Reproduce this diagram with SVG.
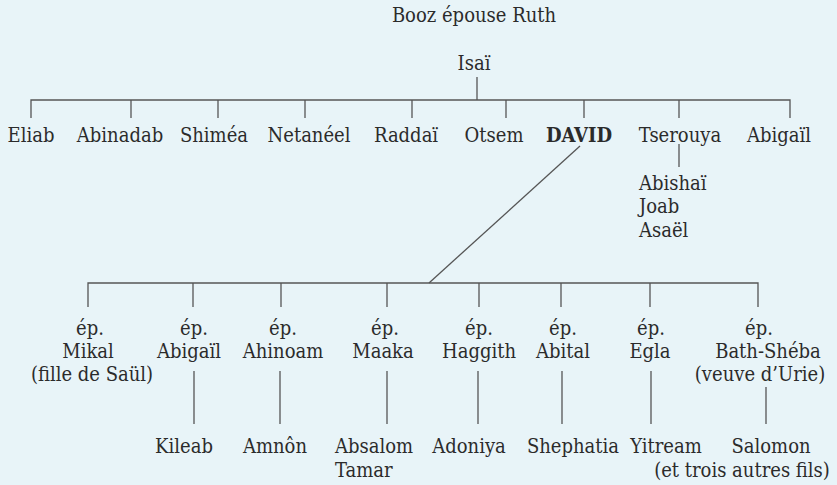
<svg xmlns="http://www.w3.org/2000/svg" width="837" height="485" viewBox="0 0 837 485">
<style>
text{font-family:"DejaVu Serif Condensed","DejaVu Serif","Liberation Serif",serif;font-stretch:condensed;font-size:20px;fill:#2b2b2b;text-anchor:middle}
.l{text-anchor:start}
.b{font-weight:bold}
#connectors line,#connectors polyline{stroke:#555;stroke-width:1.3;fill:none}
</style>
<rect width="837" height="485" fill="#e8f4f8"/>
<g id="connectors">
<line x1="477" y1="77" x2="477" y2="100"/>
<polyline points="31,118 31,100 790,100 790,118"/>
<line x1="131" y1="100" x2="131" y2="118"/>
<line x1="218" y1="100" x2="218" y2="118"/>
<line x1="305" y1="100" x2="305" y2="118"/>
<line x1="412" y1="100" x2="412" y2="118"/>
<line x1="506" y1="100" x2="506" y2="118"/>
<line x1="584" y1="100" x2="584" y2="118"/>
<line x1="679" y1="100" x2="679" y2="118"/>
<line x1="679" y1="144" x2="679" y2="167"/>
<line x1="580" y1="146" x2="429" y2="283"/>
<polyline points="88,307 88,283 758,283 758,307"/>
<line x1="193" y1="283" x2="193" y2="307"/>
<line x1="281" y1="283" x2="281" y2="307"/>
<line x1="387" y1="283" x2="387" y2="307"/>
<line x1="479" y1="283" x2="479" y2="307"/>
<line x1="561" y1="283" x2="561" y2="307"/>
<line x1="650" y1="283" x2="650" y2="307"/>
<line x1="194" y1="371" x2="194" y2="424"/>
<line x1="280" y1="371" x2="280" y2="424"/>
<line x1="387" y1="371" x2="387" y2="424"/>
<line x1="478" y1="371" x2="478" y2="424"/>
<line x1="562" y1="371" x2="562" y2="424"/>
<line x1="651" y1="371" x2="651" y2="424"/>
<line x1="766" y1="387" x2="766" y2="424"/>
</g>
<g id="title"><text x="474" y="22">Booz épouse Ruth</text></g>
<g id="isai"><text x="474" y="70">Isaï</text></g>
<g id="eliab"><text x="31" y="142">Eliab</text></g>
<g id="abinadab"><text x="120" y="142">Abinadab</text></g>
<g id="shimea"><text x="214" y="142">Shiméa</text></g>
<g id="netaneel"><text x="309" y="142">Netanéel</text></g>
<g id="raddai"><text x="406" y="142">Raddaï</text></g>
<g id="otsem"><text x="494" y="142">Otsem</text></g>
<g id="david"><text class="b" x="579" y="142">DAVID</text></g>
<g id="tserouya"><text x="680" y="142">Tserouya</text></g>
<g id="abigail1"><text x="779" y="142">Abigaïl</text></g>
<g id="tserouya-sons"><text class="l" x="639" y="190">Abishaï</text><text class="l" x="639" y="213">Joab</text><text class="l" x="639" y="237">Asaël</text></g>
<g id="mikal"><text x="90" y="335">ép.</text><text x="88" y="358">Mikal</text><text x="92" y="381">(fille de Saül)</text></g>
<g id="abigail2"><text x="194" y="335">ép.</text><text x="189" y="358">Abigaïl</text></g>
<g id="ahinoam"><text x="283" y="335">ép.</text><text x="283" y="358">Ahinoam</text></g>
<g id="maaka"><text x="385" y="335">ép.</text><text x="383" y="358">Maaka</text></g>
<g id="haggith"><text x="479" y="335">ép.</text><text x="479" y="358">Haggith</text></g>
<g id="abital"><text x="563" y="335">ép.</text><text x="563" y="358">Abital</text></g>
<g id="egla"><text x="651" y="335">ép.</text><text x="650" y="358">Egla</text></g>
<g id="bathsheba"><text x="759" y="335">ép.</text><text x="768" y="358">Bath-Shéba</text><text x="760" y="381">(veuve d’Urie)</text></g>
<g id="kileab"><text x="184" y="453">Kileab</text></g>
<g id="amnon"><text x="275" y="453">Amnôn</text></g>
<g id="absalom"><text class="l" x="335" y="453">Absalom</text><text class="l" x="335" y="477">Tamar</text></g>
<g id="adoniya"><text x="469" y="453">Adoniya</text></g>
<g id="shephatia"><text x="573" y="453">Shephatia</text></g>
<g id="yitream"><text x="666" y="453">Yitream</text></g>
<g id="salomon"><text x="771" y="453">Salomon</text><text x="742" y="477">(et trois autres fils)</text></g>
</svg>
